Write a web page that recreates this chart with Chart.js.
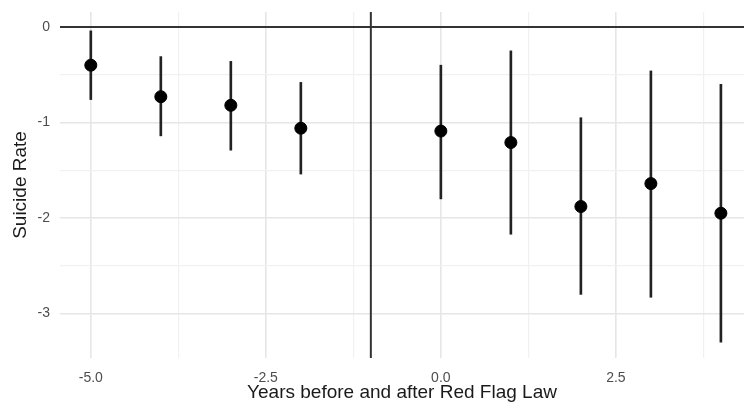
<!DOCTYPE html>
<html>
<head>
<meta charset="utf-8">
<script src="https://cdn.jsdelivr.net/npm/chart.js@4.4.1/dist/chart.umd.min.js"></script>
<style>
  html, body { margin: 0; padding: 0; background: #ffffff; }
  #wrap { width: 744px; height: 406px; }
</style>
</head>
<body>
<div id="wrap"><canvas id="c" width="744" height="406"></canvas></div>
<script>
// ---- data ----
const years    = [-5, -4, -3, -2, 0, 1, 2, 3, 4];
const estimate = [-0.40, -0.73, -0.82, -1.06, -1.09, -1.21, -1.88, -1.64, -1.95];
const ciLow    = [-0.76, -1.14, -1.29, -1.54, -1.80, -2.17, -2.80, -2.83, -3.30];
const ciHigh   = [-0.04, -0.31, -0.36, -0.58, -0.40, -0.25, -0.95, -0.46, -0.60];

const xTicks      = [-5, -3.75, -2.5, -1.25, 0, 1.25, 2.5, 3.75];
const xTickLabels = ['-5.0', '', '-2.5', '', '0.0', '', '2.5', ''];
const yTicks      = [0, -0.5, -1, -1.5, -2, -2.5, -3];
const yTickLabels = ['0', '', '-1', '', '-2', '', '-3'];

const refX = -1;  // vertical reference line
const refY = 0;   // horizontal reference line

const xTitle = 'Years before and after Red Flag Law';
const yTitle = 'Suicide Rate';

// ---- build datasets ----
const points = years.map((x, i) => ({ x: x, y: estimate[i] }));
const bars   = years.map((x, i) => ({ x: x, y: [ciLow[i], ciHigh[i]] }));

const refLines = {
  id: 'refLines',
  beforeDatasetsDraw(chart) {
    const { ctx, chartArea: a, scales: { x, y } } = chart;
    ctx.save();
    ctx.strokeStyle = '#333333';
    ctx.lineWidth = 2;
    const py = y.getPixelForValue(refY);
    ctx.beginPath(); ctx.moveTo(a.left, py); ctx.lineTo(a.right, py); ctx.stroke();
    const px = x.getPixelForValue(refX);
    ctx.beginPath(); ctx.moveTo(px, a.top); ctx.lineTo(px, a.bottom); ctx.stroke();
    ctx.restore();
  }
};

const gridColor = (ctx, labels) => (labels[ctx.index] ? '#e6e6e6' : '#f1f1f1');

new Chart(document.getElementById('c'), {
  type: 'scatter',
  data: {
    datasets: [
      {
        type: 'bar',
        data: bars,
        backgroundColor: '#222222',
        borderWidth: 0,
        barThickness: 2,
        order: 2
      },
      {
        type: 'scatter',
        data: points,
        backgroundColor: '#000000',
        borderColor: '#000000',
        pointRadius: 6,
        pointHoverRadius: 6,
        order: 1
      }
    ]
  },
  options: {
    responsive: false,
    animation: false,
    events: [],
    layout: { autoPadding: false, padding: { top: 12, right: 0, left: 0, bottom: 0 } },
    plugins: { legend: { display: false }, tooltip: { enabled: false } },
    scales: {
      x: {
        type: 'linear',
        min: -5.44,
        max: 4.33,
        offset: false,
        afterBuildTicks: s => { s.ticks = xTicks.map(v => ({ value: v })); },
        afterFit: s => { s.height = 48; s.paddingLeft = 0; s.paddingRight = 0; },
        border: { display: false },
        grid: {
          offset: false,
          drawTicks: false,
          color: c => gridColor(c, xTickLabels),
          lineWidth: c => (xTickLabels[c.index] ? 1.6 : 1.2)
        },
        ticks: {
          padding: 12,
          autoSkip: false,
          maxRotation: 0,
          color: '#4d4d4d',
          font: { family: 'Liberation Sans', size: 14 },
          callback: (v, i) => xTickLabels[i]
        },
        title: {
          display: true,
          text: xTitle,
          color: '#1a1a1a',
          font: { family: 'Liberation Sans', size: 19 },
          padding: { top: 0, bottom: 2 }
        }
      },
      y: {
        type: 'linear',
        min: -3.466,
        max: 0.157,
        afterBuildTicks: s => { s.ticks = yTicks.map(v => ({ value: v })); },
        afterFit: s => { s.width = 60; s.paddingTop = 0; s.paddingBottom = 0; },
        border: { display: false },
        grid: {
          drawTicks: false,
          color: c => gridColor(c, yTickLabels),
          lineWidth: c => (yTickLabels[c.index] ? 1.6 : 1.2)
        },
        ticks: {
          padding: 10,
          autoSkip: false,
          color: '#4d4d4d',
          font: { family: 'Liberation Sans', size: 14 },
          callback: (v, i) => yTickLabels[i]
        },
        title: {
          display: true,
          text: yTitle,
          color: '#1a1a1a',
          font: { family: 'Liberation Sans', size: 19 },
          padding: { top: 9, bottom: 0 }
        }
      }
    }
  },
  plugins: [refLines]
});
</script>
</body>
</html>
